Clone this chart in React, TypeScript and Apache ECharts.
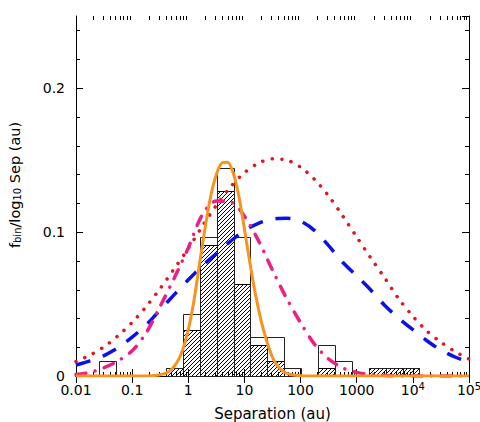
import React, { useEffect, useRef } from 'react';
import * as echarts from 'echarts';

// ---- data ----
const broadLogSep = [-2, -1.75, -1.5, -1.25, -1, -0.75, -0.5, -0.25, 0, 0.25, 0.5, 0.75, 1, 1.25, 1.5, 1.75, 2, 2.25, 2.5, 2.75, 3, 3.25, 3.5, 3.75, 4, 4.25, 4.5, 4.75, 5];
const redFbin = [0.0100, 0.0145, 0.0203, 0.0280, 0.0372, 0.0482, 0.0608, 0.0745, 0.0885, 0.1040, 0.1185, 0.1312, 0.1412, 0.1478, 0.1508, 0.1500, 0.1450, 0.1365, 0.1250, 0.1112, 0.0965, 0.0820, 0.0680, 0.0535, 0.0415, 0.0312, 0.0235, 0.0170, 0.0118];
const blueFbin = [0.0076, 0.0105, 0.0142, 0.0197, 0.0270, 0.0355, 0.0460, 0.0565, 0.0668, 0.0765, 0.0850, 0.0935, 0.1010, 0.1060, 0.1090, 0.1095, 0.1075, 0.1010, 0.0905, 0.0790, 0.0695, 0.0597, 0.0490, 0.0400, 0.0322, 0.0245, 0.0180, 0.0132, 0.0097];
const pinkFbin = [0.0010, 0.0025, 0.0058, 0.0105, 0.0175, 0.0300, 0.0485, 0.0680, 0.0890, 0.1120, 0.1215, 0.1210, 0.1110, 0.0940, 0.0735, 0.0540, 0.0370, 0.0220, 0.0118, 0.0056, 0.0025, 0.0010, 0.0004, 0.0001, 0, 0, 0, 0, 0];

const orangeLogSep = [-2, -0.8, -0.6, -0.5, -0.4, -0.3, -0.2, -0.1, 0, 0.1, 0.2, 0.3, 0.4, 0.5, 0.6, 0.7, 0.8, 0.9, 1.0, 1.1, 1.2, 1.3, 1.4, 1.5, 1.6, 1.7, 1.8, 1.9, 2.1, 5];
const orangeFbin = [0, 0, 0.0004, 0.0009, 0.0020, 0.0045, 0.0095, 0.0180, 0.0320, 0.0520, 0.0780, 0.1030, 0.1250, 0.1400, 0.1480, 0.1485, 0.1410, 0.1250, 0.1020, 0.0780, 0.0560, 0.0380, 0.0240, 0.0130, 0.0065, 0.0030, 0.0013, 0.0005, 0, 0];

const allBinLow = [0.0256, 0.4, 0.8, 1.6, 3.2, 6.4, 12.8, 25.6, 51.2, 204.8, 409.6, 1638.4, 3276.8, 6553.6];
const allBinHigh = [0.0512, 0.8, 1.6, 3.2, 6.4, 12.8, 25.6, 51.2, 102.4, 409.6, 819.2, 3276.8, 6553.6, 13107.2];
const allFbin = [0.0107, 0.0054, 0.0428, 0.0963, 0.1445, 0.0963, 0.0268, 0.0268, 0.0054, 0.0214, 0.0107, 0.0054, 0.0054, 0.0054];

const subBinLow = [0.4, 0.8, 1.6, 3.2, 6.4, 12.8, 25.6, 204.8, 1638.4, 3276.8, 6553.6];
const subBinHigh = [0.8, 1.6, 3.2, 6.4, 12.8, 25.6, 51.2, 409.6, 3276.8, 6553.6, 13107.2];
const subFbin = [0.0054, 0.0321, 0.0910, 0.1285, 0.0642, 0.0214, 0.0107, 0.0054, 0.0054, 0.0054, 0.0054];

const xTickExponents = [-2, -1, 0, 1, 2, 3, 4, 5];
const xTickLabels = ['0.01', '0.1', '1', '10', '100', '1000', '10^4', '10^5'];
const yTickLabels: Record<string, string> = { '0': '0', '0.1': '0.1', '0.2': '0.2' };
const yMinorTicks = [0.02, 0.04, 0.06, 0.08, 0.12, 0.14, 0.16, 0.18, 0.22, 0.24];

const FONT = 'DejaVu Sans';

function minorXTicks(): number[] {
  const out: number[] = [];
  for (let e = -2; e < 5; e++) {
    for (let m = 2; m <= 9; m++) out.push(+(m * Math.pow(10, e)).toPrecision(6));
  }
  return out;
}

function hatchImage(size: number): string {
  const c = document.createElement('canvas');
  c.width = size;
  c.height = size;
  const ctx = c.getContext('2d')!;
  ctx.strokeStyle = '#000';
  ctx.lineWidth = 1;
  ctx.beginPath();
  ctx.moveTo(0, size);
  ctx.lineTo(size, 0);
  ctx.moveTo(-1, 1);
  ctx.lineTo(1, -1);
  ctx.moveTo(size - 1, size + 1);
  ctx.lineTo(size + 1, size - 1);
  ctx.stroke();
  return c.toDataURL();
}

function rectRenderer(fill: any, stroke: string) {
  return (params: any, api: any) => {
    const lo = api.value(0);
    const hi = api.value(1);
    const v = api.value(2);
    const a = api.coord([lo, v]);
    const b = api.coord([hi, 0]);
    const x0 = Math.round(a[0]) + 0.5;
    const x1 = Math.round(b[0]) + 0.5;
    const y0 = Math.round(a[1]) + 0.5;
    const y1 = Math.round(b[1]) + 0.5;
    return {
      type: 'rect',
      shape: { x: x0, y: y0, width: x1 - x0, height: y1 - y0 },
      style: { fill, stroke, lineWidth: 1 },
    };
  };
}

function xLabel(v: number): string {
  const e = Math.round(Math.log10(v));
  const i = xTickExponents.indexOf(e);
  const t = i >= 0 ? xTickLabels[i] : '';
  if (t.indexOf('^') >= 0) {
    const [b, p] = t.split('^');
    return `{m|${b}}{sup|${p}}`;
  }
  return `{m|${t}}`;
}

export default function App() {
  const ref = useRef<HTMLDivElement>(null);

  useEffect(() => {
    if (!ref.current) return;
    const chart = echarts.init(ref.current, null, { renderer: 'svg' });
    const hatch = { image: hatchImage(4), repeat: 'repeat', imageWidth: 4, imageHeight: 4 };

    const axisLineStyle = { color: '#000', width: 1 };
    const option: any = {
      animation: false,
      backgroundColor: '#fff',
      grid: { left: 76, right: 11, top: 16, bottom: 46, containLabel: false, outerBoundsMode: 'none' },
      xAxis: [
        {
          type: 'log',
          logBase: 10,
          min: 0.01,
          max: 100000,
          position: 'bottom',
          axisLine: { show: true, lineStyle: axisLineStyle },
          axisTick: { show: true, inside: true, length: 7, lineStyle: axisLineStyle },
          minorTick: { show: false },
          splitLine: { show: false },
          axisLabel: {
            show: true,
            margin: 5,
            color: '#000',
            fontFamily: FONT,
            formatter: (v: number) => xLabel(v),
            rich: {
              m: { fontSize: 14, fontFamily: FONT, color: '#000', lineHeight: 14, padding: [4, 0, 0, 0] },
              sup: { fontSize: 10, fontFamily: FONT, color: '#000', lineHeight: 10, verticalAlign: 'top' },
            },
          },
          name: 'Separation (au)',
          nameLocation: 'middle',
          nameGap: 30,
          nameTextStyle: { fontSize: 15, fontFamily: FONT, color: '#000' },
        },
        {
          type: 'log',
          logBase: 10,
          min: 0.01,
          max: 100000,
          position: 'top',
          axisLine: { show: true, lineStyle: axisLineStyle },
          axisTick: { show: true, inside: true, length: 7, lineStyle: axisLineStyle },
          axisLabel: { show: false },
          splitLine: { show: false },
        },
      ],
      yAxis: [
        {
          type: 'value',
          min: 0,
          max: 0.25,
          interval: 0.1,
          position: 'left',
          axisLine: { show: true, lineStyle: axisLineStyle },
          axisTick: { show: true, inside: true, length: 7, lineStyle: axisLineStyle },
          splitLine: { show: false },
          axisLabel: {
            show: true,
            margin: 11,
            showMaxLabel: false,
            color: '#000',
            fontSize: 14,
            fontFamily: FONT,
            formatter: (v: number) => yTickLabels[String(+v.toFixed(2))] ?? '',
          },
          name: '{m|f}{s|bin}{m|/log}{s|10}{m| Sep (au)}',
          nameLocation: 'middle',
          nameGap: 54,
          nameTextStyle: {
            color: '#000',
            fontFamily: FONT,
            padding: [0, 0, 0, 22],
            rich: {
              m: { fontSize: 14.5, fontFamily: FONT, color: '#000', lineHeight: 15 },
              s: { fontSize: 10, fontFamily: FONT, color: '#000', lineHeight: 10, padding: [7, 0, 0, 0], verticalAlign: 'bottom' },
            },
          },
        },
        {
          type: 'value',
          min: 0,
          max: 0.25,
          interval: 0.1,
          position: 'right',
          axisLine: { show: true, lineStyle: axisLineStyle },
          axisTick: { show: true, inside: true, length: 7, lineStyle: axisLineStyle },
          axisLabel: { show: false },
          splitLine: { show: false },
        },
      ],
      series: [
        {
          type: 'custom',
          name: 'hatched',
          silent: true,
          clip: false,
          encode: { x: [0, 1], y: 2 },
          renderItem: rectRenderer(hatch, '#000'),
          data: subBinLow.map((lo, i) => [lo, subBinHigh[i], subFbin[i]]),
        },
        {
          type: 'custom',
          name: 'all',
          silent: true,
          clip: false,
          encode: { x: [0, 1], y: 2 },
          renderItem: rectRenderer('none', '#222'),
          data: allBinLow.map((lo, i) => [lo, allBinHigh[i], allFbin[i]]),
        },
        {
          type: 'custom',
          name: 'xminor',
          silent: true,
          clip: false,
          encode: { x: 0, y: 1 },
          renderItem: (params: any, api: any) => {
            const v = api.value(0);
            const b = api.coord([v, 0]);
            const t = api.coord([v, 0.25]);
            const x = Math.round(b[0]) + 0.5;
            return {
              type: 'group',
              children: [
                { type: 'line', shape: { x1: x, y1: b[1], x2: x, y2: b[1] - 4 }, style: { stroke: '#000', lineWidth: 1 } },
                { type: 'line', shape: { x1: x, y1: t[1], x2: x, y2: t[1] + 4 }, style: { stroke: '#000', lineWidth: 1 } },
              ],
            };
          },
          data: minorXTicks().map((v) => [v, 0]),
        },
        {
          type: 'custom',
          name: 'yminor',
          silent: true,
          clip: false,
          encode: { x: 0, y: 1 },
          renderItem: (params: any, api: any) => {
            const v = api.value(1);
            const l = api.coord([0.01, v]);
            const r = api.coord([100000, v]);
            const y = Math.round(l[1]) + 0.5;
            return {
              type: 'group',
              children: [
                { type: 'line', shape: { x1: l[0], y1: y, x2: l[0] + 4, y2: y }, style: { stroke: '#000', lineWidth: 1 } },
                { type: 'line', shape: { x1: r[0], y1: y, x2: r[0] - 4, y2: y }, style: { stroke: '#000', lineWidth: 1 } },
              ],
            };
          },
          data: yMinorTicks.map((v) => [0.01, v]),
        },
        {
          type: 'line',
          name: 'red',
          showSymbol: false,
          smooth: 0.3,
          lineStyle: { color: '#e3161c', width: 3.5, type: [0.1, 9.5], cap: 'round' },
          data: broadLogSep.map((l, i) => [Math.pow(10, l), redFbin[i]]),
        },
        {
          type: 'line',
          name: 'blue',
          showSymbol: false,
          smooth: 0.3,
          lineStyle: { color: '#0b12e8', width: 3.5, type: [15, 13], cap: 'butt' },
          data: broadLogSep.map((l, i) => [Math.pow(10, l), blueFbin[i]]),
        },
        {
          type: 'line',
          name: 'pink',
          showSymbol: false,
          smooth: 0.3,
          lineStyle: { color: '#ec1f82', width: 3.5, type: [10, 9.5, 0.1, 9.5], cap: 'round' },
          data: broadLogSep.map((l, i) => [Math.pow(10, l), pinkFbin[i]]),
        },
        {
          type: 'line',
          name: 'orange',
          showSymbol: false,
          smooth: 0.3,
          lineStyle: { color: '#f7931e', width: 3 },
          data: orangeLogSep.map((l, i) => [Math.pow(10, l), orangeFbin[i]]),
        },
      ],
    };
    chart.setOption(option);
    return () => chart.dispose();
  }, []);

  return (
    <div
      ref={ref}
      style={{ position: 'fixed', left: 0, top: 0, width: 480, height: 422, background: '#fff' }}
    />
  );
}
